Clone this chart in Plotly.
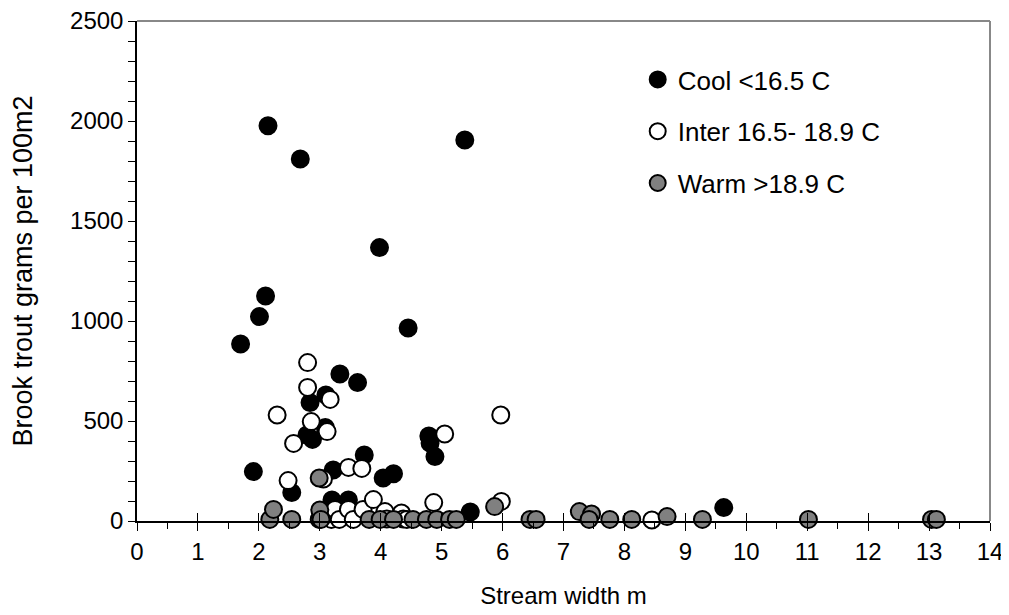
import plotly.graph_objects as go

# Cool <16.5 C
cool_x = [1.70, 1.91, 2.01, 2.11, 2.15, 2.54, 2.68, 2.79, 2.84, 2.88, 3.09, 3.10, 3.20, 3.22,
          3.33, 3.47, 3.62, 3.73, 3.98, 4.04, 4.21, 4.45, 4.79, 4.81, 4.89, 5.38, 5.47, 9.63]
cool_y = [885, 247, 1022, 1125, 1976, 142, 1810, 430, 592, 408, 468, 630, 105, 255,
          735, 105, 692, 330, 1367, 215, 236, 965, 425, 390, 322, 1905, 45, 67]

# Inter 16.5- 18.9 C
inter_x = [2.30, 2.48, 2.57, 2.80, 2.80, 2.86, 3.06, 3.12, 3.17, 3.19, 3.25, 3.32, 3.47, 3.47,
           3.55, 3.69, 3.71, 3.88, 4.07, 4.10, 4.34, 4.37, 4.43, 4.87, 5.05, 5.97, 5.98, 8.45]
inter_y = [530, 202, 388, 792, 668, 497, 210, 447, 608, 8, 58, 8, 268, 58,
           8, 263, 58, 107, 47, 10, 40, 10, 8, 92, 435, 530, 98, 5]

# Warm >18.9 C
warm_x = [2.18, 2.24, 2.54, 2.99, 3.00, 2.99, 3.02, 3.81, 3.99, 4.21, 4.53, 4.75, 4.92, 5.13,
          5.24, 5.87, 6.45, 6.55, 7.26, 7.46, 7.42, 7.76, 8.12, 8.70, 9.28, 11.02, 13.04, 13.12]
warm_y = [8, 58, 8, 8, 55, 215, 8, 8, 8, 8, 8, 8, 8, 8,
          8, 72, 8, 8, 47, 35, 8, 8, 8, 22, 8, 8, 8, 8]

series = [
    ("Cool <16.5 C", cool_x, cool_y, "#000000"),
    ("Inter 16.5- 18.9 C", inter_x, inter_y, "#ffffff"),
    ("Warm >18.9 C", warm_x, warm_y, "#808080"),
]

FONT = "Liberation Sans, Arial, sans-serif"
FS = 24

fig = go.Figure()
for i, (name, xs, ys, fill) in enumerate(series):
    fig.add_trace(go.Scatter(
        x=xs, y=ys, mode="markers", name=name, legendgroup=f"g{i}",
        cliponaxis=False,
        marker=dict(size=17, color=fill, line=dict(color="#000000", width=2)),
    ))

fig.update_layout(
    width=1001, height=607,
    margin=dict(l=129, r=19, t=13, b=94, autoexpand=False),
    paper_bgcolor="white", plot_bgcolor="white",
    font=dict(family=FONT, size=FS, color="#000000"),
    showlegend=True,
    legend=dict(
        x=0.587, y=0.93, xanchor="left", yanchor="top",
        bgcolor="rgba(0,0,0,0)", font=dict(size=26, family=FONT),
        traceorder="grouped", tracegroupgap=15, itemwidth=30,
    ),
    xaxis=dict(
        range=[0, 14], dtick=1, tick0=0, showgrid=False, zeroline=False,
        showline=True, linecolor="#000000", linewidth=1.5, automargin=False,
        ticks="outside", ticklen=8, tickwidth=1.2, tickcolor="#000000",
        minor=dict(dtick=0.5, ticks="outside", ticklen=6, tickcolor="#000000", showgrid=False),
        title=dict(text="Stream width m", font=dict(size=FS), standoff=24),
        tickfont=dict(size=FS), ticklabeloverflow="allow",
    ),
    yaxis=dict(
        range=[0, 2500], dtick=500, tick0=0, showgrid=False, zeroline=False,
        showline=True, linecolor="#000000", linewidth=1.5, automargin=False,
        ticks="outside", ticklen=7, tickwidth=1.2, tickcolor="#000000",
        minor=dict(dtick=100, ticks="outside", ticklen=7, tickcolor="#000000", showgrid=False),
        title=dict(text="Brook trout grams per 100m2", font=dict(size=27), standoff=33),
        tickfont=dict(size=FS), ticklabeloverflow="allow",
    ),
    xaxis2=dict(
        overlaying="x", matches="x", range=[0, 14], dtick=1, tick0=0, automargin=False,
        side="bottom", anchor="y", ticks="inside", ticklen=8, tickwidth=1.2,
        tickcolor="#000000", showticklabels=False, showgrid=False, zeroline=False,
        showline=False,
    ),
    shapes=[
        dict(type="line", xref="paper", yref="paper", x0=0, x1=1, y0=1, y1=1,
             line=dict(color="#888888", width=2)),
        dict(type="line", xref="paper", yref="paper", x0=1, x1=1, y0=0, y1=1,
             line=dict(color="#888888", width=2)),
    ],
)

fig.add_trace(go.Scatter(x=[None], y=[None], xaxis="x2", yaxis="y", showlegend=False, hoverinfo="skip"))

fig.write_html("out.html")
